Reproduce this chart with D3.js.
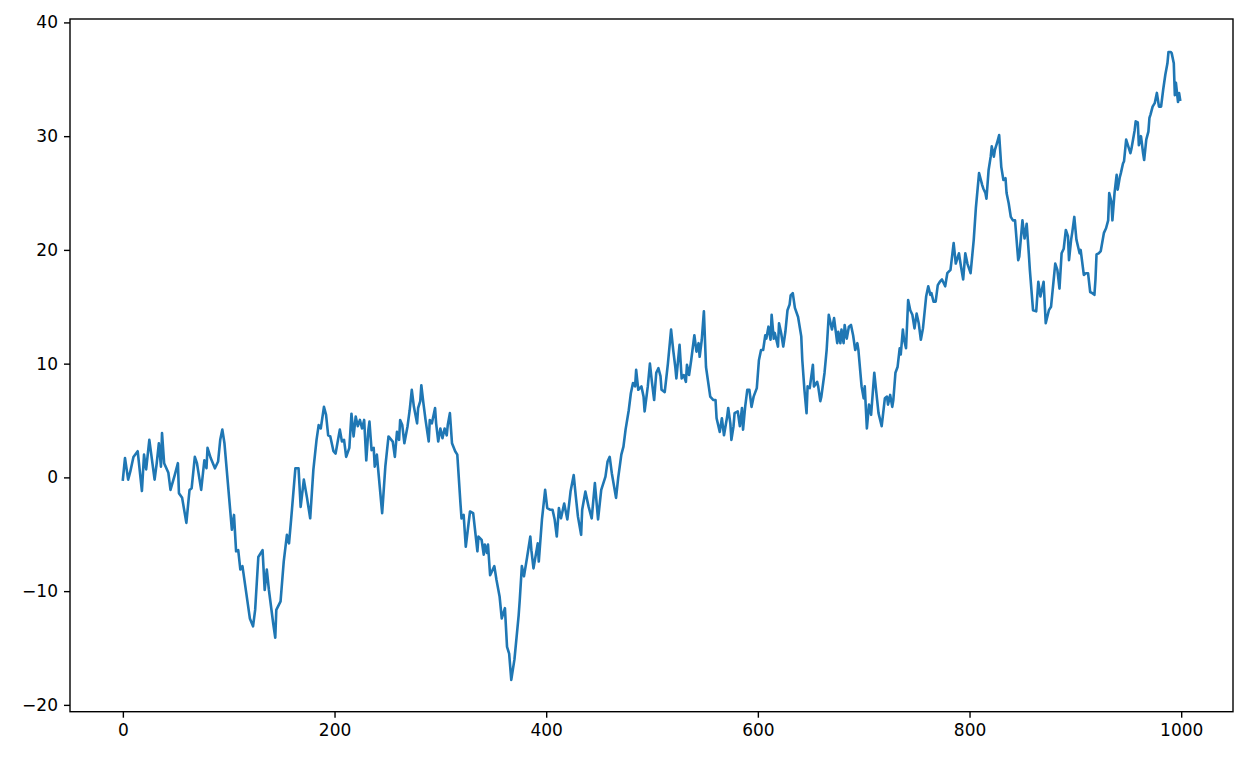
<!DOCTYPE html>
<html>
<head>
<meta charset="utf-8">
<script src="https://cdn.jsdelivr.net/npm/d3@7"></script>
<style>
  html, body { margin: 0; padding: 0; background: #ffffff; }
  svg { display: block; }
  text { font-family: "DejaVu Sans", sans-serif; }
</style>
</head>
<body>
<svg id="chart" width="1254" height="762"></svg>
<script>
// Step index (x)
const steps = [0,2,5,7,10,14,18,20,22,25,30,32,34,36,37,39,43,45,49,52,53,56,60,63,65,68,70,74,77,79,80,83,87,90,92,94,96,103,105,107,109,111,113,120,123,125,128,132,134,136,138,142,144,145,149,152,155,157,159,163,166,168,171,174,175,177,180,183,185,187,190,192,194,196,199,201,205,207,209,211,214,216,218,220,222,224,226,228,230,232,233,235,237,238,240,241,245,248,251,255,257,259,261,262,264,266,269,271,273,275,278,279,281,282,284,286,289,290,292,295,296,298,300,302,304,306,307,309,311,314,316,319,320,322,324,328,331,335,336,339,341,342,344,345,347,351,353,356,358,361,363,365,367,370,374,375,377,379,382,385,386,388,392,393,396,399,401,404,406,408,410,412,414,417,420,423,426,428,430,433,434,437,440,443,446,449,452,456,458,460,462,466,468,471,473,475,478,480,482,484,485,487,490,492,493,496,498,500,502,504,506,508,509,512,515,518,520,522,523,526,528,530,532,533,535,537,540,542,544,545,547,549,551,555,558,560,561,564,566,568,571,572,574,575,577,578,581,583,585,586,588,590,592,594,596,599,601,603,605,607,608,610,612,613,615,616,619,620,622,624,626,628,630,631,633,635,638,641,642,644,646,647,649,652,653,656,657,659,660,663,665,667,670,672,675,676,678,679,681,682,684,686,688,690,692,694,695,698,700,701,703,705,707,710,712,714,717,720,722,723,725,727,728,730,732,734,735,737,738,740,742,744,746,748,750,752,754,756,759,761,763,764,766,768,770,772,774,777,779,782,785,787,790,792,794,796,798,801,804,806,809,812,813,815,816,818,820,821,823,824,826,828,830,832,834,835,837,839,841,843,846,847,850,852,854,856,857,860,863,865,867,870,872,875,877,881,883,885,887,889,891,893,894,896,897,899,901,904,905,908,910,912,914,916,918,919,920,922,924,927,929,931,932,934,935,937,939,940,942,943,945,946,948,950,952,953,956,957,959,960,962,964,965,967,969,970,971,973,975,977,979,981,983,985,987,988,990,991,993,994,995,997,998,999];

// Walk value at each step
const walk = [-0.2,1.7,-0.2,0.5,1.8,2.3,-1.2,2.0,0.7,3.3,-0.2,1.25,3.0,0.95,3.9,1.25,0.4,-1.1,0.2,1.25,-1.4,-1.8,-4.0,-1.1,-0.95,1.8,1.25,-1.1,1.5,0.8,2.6,1.7,0.8,1.4,3.3,4.2,3.0,-4.6,-3.3,-6.5,-6.4,-8.1,-7.8,-12.4,-13.1,-11.65,-7.0,-6.4,-9.9,-8.1,-9.9,-12.8,-14.1,-11.65,-10.9,-7.4,-5.05,-5.8,-3.7,0.8,0.8,-2.6,-0.2,-1.8,-2.4,-3.6,0.66,3.3,4.6,4.3,6.2,5.5,3.7,3.6,2.3,2.1,4.2,3.15,3.3,1.8,2.6,5.6,3.6,5.35,4.5,5.05,4.3,5.05,1.5,4.2,4.9,2.4,2.6,0.95,2.0,0.95,-3.15,0.95,3.6,3.15,1.8,4.0,3.3,5.05,4.6,3.0,4.5,5.9,7.7,6.2,4.75,6.1,6.7,8.1,6.5,5.05,3.15,5.05,4.75,6.1,4.75,3.15,4.3,3.45,4.3,3.7,4.6,5.65,3.0,2.3,2.0,-2.3,-3.6,-3.3,-6.1,-3.0,-3.15,-6.5,-5.2,-5.5,-6.8,-5.9,-6.65,-5.9,-8.6,-7.8,-9.0,-10.5,-12.4,-11.5,-14.9,-15.5,-17.8,-16.0,-12.1,-10.8,-7.8,-8.7,-7.0,-5.2,-6.4,-8.0,-5.8,-7.4,-3.7,-1.1,-2.7,-2.85,-2.85,-3.7,-5.2,-2.7,-3.6,-2.3,-3.7,-1.25,0.2,-1.7,-3.45,-5.05,-2.85,-1.25,-2.55,-3.6,-0.5,-3.7,-1.1,0.07,1.4,1.8,0.37,-1.8,-0.07,2.0,2.7,4.2,5.9,7.4,8.3,8.0,9.45,7.7,8.0,7.1,5.8,8.0,10.0,8.3,6.8,9.2,9.6,8.9,7.7,7.5,10.0,13.0,11.2,9.7,8.7,11.65,8.7,9.0,8.4,9.9,9.0,10.3,12.5,11.05,11.8,10.6,12.1,14.6,9.7,7.1,6.8,6.8,5.2,4.0,5.2,3.7,5.35,6.1,4.75,3.3,4.5,5.65,5.8,4.5,6.1,4.2,6.2,7.7,7.7,6.2,7.1,7.85,10.3,11.2,11.2,12.5,12.2,13.25,12.1,14.3,12.2,12.7,11.5,13.55,12.7,11.5,12.8,14.7,15.2,16.0,16.2,14.9,14.1,12.4,10.3,7.7,5.65,8.0,7.85,9.9,8.0,8.4,8.0,6.7,7.1,9.2,11.2,14.3,13.0,14.0,11.8,12.8,11.8,13.0,11.8,13.4,12.2,13.25,13.4,12.5,11.2,11.8,11.2,8.0,6.95,8.0,4.3,6.4,5.5,9.2,7.4,5.65,4.5,6.95,7.1,6.4,7.25,6.2,6.8,9.2,9.7,11.35,10.8,13.0,12.2,11.35,15.6,14.7,14.3,13.1,14.4,13.55,12.1,13.1,15.9,16.8,16.05,16.2,15.45,15.45,16.9,17.2,17.4,16.8,17.95,18.25,20.6,18.8,19.7,18.5,17.4,19.7,18.8,17.95,20.9,23.7,26.75,25.7,25.4,25.0,24.5,27.0,28.2,29.1,28.2,28.8,29.4,30.1,27.3,26.15,26.3,25.0,24.1,22.9,22.6,22.6,19.1,19.4,22.6,21.0,22.3,19.7,18.25,14.7,14.6,17.2,15.9,17.2,13.55,14.7,15.0,18.8,18.25,16.6,19.7,20.1,21.75,21.2,19.1,20.9,21.5,22.9,20.9,19.7,20.0,17.8,17.95,17.95,16.3,16.2,16.05,17.4,19.6,19.7,19.9,21.5,21.9,22.6,25.0,24.25,22.6,25.0,26.6,25.3,26.4,26.75,27.6,27.8,29.7,29.1,28.5,28.9,30.5,31.3,31.2,29.2,30.0,28.5,27.9,29.7,30.4,31.6,31.9,32.6,32.9,33.8,32.6,32.6,34.1,35.4,36.4,37.4,37.4,37.3,36.4,33.6,34.7,33.0,33.8,33.2];

const xTicks = [0, 200, 400, 600, 800, 1000];
const yTicks = [-20, -10, 0, 10, 20, 30, 40];

const n = Math.min(steps.length, walk.length);
const data = steps.slice(0, n).map((s, i) => ({ x: s, y: walk[i] }));

const svg = d3.select("#chart");
const plotL = 70, plotR = 1233, plotT = 19, plotB = 711.7;

const x = d3.scaleLinear().domain([-49.95, 1048.95]).range([plotL, plotR]);
const y = d3.scaleLinear().domain([-20.6, 40.3]).range([plotB, plotT]);

svg.append("rect").attr("width", 1254).attr("height", 762).attr("fill", "#ffffff");

// line
svg.append("path")
  .datum(data)
  .attr("fill", "none")
  .attr("stroke", "#1f77b4")
  .attr("stroke-width", 2.6)
  .attr("stroke-linejoin", "round")
  .attr("stroke-linecap", "square")
  .attr("d", d3.line().x(d => x(d.x)).y(d => y(d.y)));

// axes
const xAxis = svg.append("g")
  .attr("transform", `translate(0,${plotB})`)
  .call(d3.axisBottom(x).tickValues(xTicks).tickSizeOuter(0).tickSize(6).tickPadding(6).tickFormat(d3.format("d")));
const yAxis = svg.append("g")
  .attr("transform", `translate(${plotL},0)`)
  .call(d3.axisLeft(y).tickValues(yTicks).tickSizeOuter(0).tickSize(6).tickPadding(6).tickFormat(d3.format("d")));

[xAxis, yAxis].forEach(g => {
  g.select(".domain").remove();
  g.selectAll(".tick line").attr("stroke", "#000").attr("stroke-width", 1.4);
  g.selectAll(".tick text").attr("fill", "#000").style("font-size", "17px").style("font-family", "DejaVu Sans, sans-serif");
});

// frame (spines)
svg.append("rect")
  .attr("x", plotL).attr("y", plotT)
  .attr("width", plotR - plotL).attr("height", plotB - plotT)
  .attr("fill", "none").attr("stroke", "#000").attr("stroke-width", 1.4);
</script>
</body>
</html>
